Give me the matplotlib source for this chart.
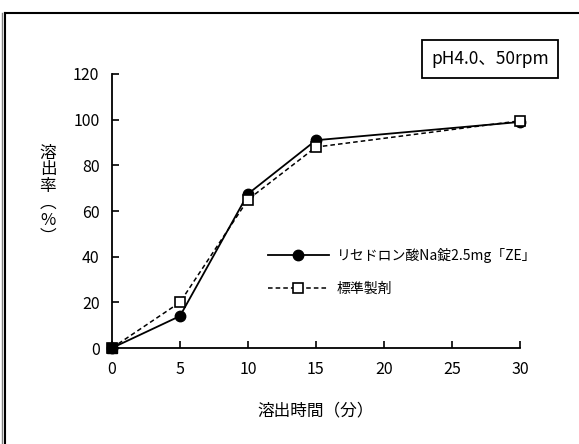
import matplotlib
matplotlib.use("Agg")
import matplotlib.pyplot as plt
from matplotlib.lines import Line2D

plt.rcParams['font.family'] = ['Noto Sans CJK JP', 'DejaVu Sans']

times = [0, 5, 10, 15, 30]
test_values = [0, 14, 67.5, 91, 99]
ref_values = [0, 20, 65, 88, 99.5]
test_label = "リセドロン酸Na錠2.5mg「ZE」"
ref_label = "標準製剤"
condition = "pH4.0、50rpm"

W, H = 579, 444
fig = plt.figure(figsize=(W / 100, H / 100), dpi=100)
ax = fig.add_axes([112 / W, 1 - 348 / H, 408 / W, 274 / H])

ax.plot(times, test_values, '-', color='black', lw=1.3, marker='o',
        markersize=7.5, markerfacecolor='black', label=test_label, zorder=3,
        clip_on=False)
ax.plot(times, ref_values, '--', color='black', lw=1.1, marker='s',
        markersize=6.5, markerfacecolor='white', markeredgewidth=1.2,
        dashes=(3, 2), label=ref_label, zorder=4, clip_on=False)
# filled marker at the origin as in the original
ax.plot(times[:1], test_values[:1], 's', color='black', markersize=7,
        zorder=5, clip_on=False)

ax.set_xlim(0, 30)
ax.set_ylim(0, 120)
ax.set_xticks([0, 5, 10, 15, 20, 25, 30])
ax.set_yticks([0, 20, 40, 60, 80, 100, 120])
ax.tick_params(direction='in', length=5, width=1.2, labelsize=11.5, pad=9)
for s in ['top', 'right']:
    ax.spines[s].set_visible(False)
for s in ['left', 'bottom']:
    ax.spines[s].set_linewidth(1.3)

ax.set_xlabel("溶出時間（分）", fontsize=12, labelpad=18)
fig.text(48 / W, 1 - 195 / H, "溶\n出\n率\n︵\n%\n︶", fontsize=12,
         ha='center', va='center', linespacing=0.98)

ax.legend(loc='upper left', bbox_to_anchor=(150 / 408, (348 - 242) / 274),
          frameon=False, fontsize=10, handlelength=4.4, handletextpad=0.6,
          labelspacing=1.4, borderaxespad=0)

fig.text(490 / W, 1 - 59 / H, condition, fontsize=12.5, ha='center', va='center',
         bbox=dict(boxstyle='square,pad=0.55', facecolor='white',
                   edgecolor='black', linewidth=1.3))

# outer frame of the figure panel
fig.add_artist(Line2D([5 / W, 1], [1 - 13 / H, 1 - 13 / H], color='black', lw=1.5,
                      transform=fig.transFigure))
fig.add_artist(Line2D([5 / W, 5 / W], [0, 1 - 13 / H], color='black', lw=1.5,
                      transform=fig.transFigure))
fig.add_artist(Line2D([1.5 / W, 1.5 / W], [0, 1 - 13 / H], color='gray', lw=1,
                      transform=fig.transFigure))

fig.savefig("out.png", dpi=100)
